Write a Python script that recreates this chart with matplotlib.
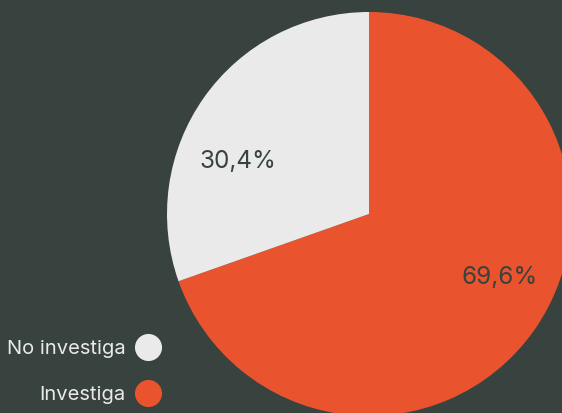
import numpy as np
import matplotlib
matplotlib.use('Agg')
import matplotlib.pyplot as plt
from matplotlib.lines import Line2D

BG = '#38423f'
ORANGE = '#e9532d'
LIGHT = '#eaeaea'

labels = ['Investiga', 'No investiga']
values = [69.6, 30.4]
colors = [ORANGE, LIGHT]

plt.rcParams['font.family'] = ['Inter', 'DejaVu Sans']

fig = plt.figure(figsize=(5.62, 4.13), dpi=100, facecolor=BG)
ax = fig.add_axes([0, 0, 1, 1])
ax.set_facecolor(BG)

wedges, texts, pcts = ax.pie(values, colors=colors, startangle=90, counterclock=False,
                             radius=1, autopct='%1.1f%%', pctdistance=0.70,
                             wedgeprops=dict(linewidth=0),
                             textprops=dict(color=BG, fontsize=17.5))

# labels are not quite at the slice middle in the original
shift = [(9.6, 0.72), (13.7, 0.70)]
for w, t, (da, dist) in zip(wedges, pcts, shift):
    t.set_text(t.get_text().replace('.', ','))
    ang = np.deg2rad((w.theta1 + w.theta2) / 2 + da)
    t.set_position((dist * np.cos(ang), dist * np.sin(ang)))

# pie is 202 px radius centred at (369, 214) px
r = 202.0
ax.set_xlim(-369 / r, (562 - 369) / r)
ax.set_ylim(-(413 - 214) / r, 214 / r)
ax.set_aspect('auto')
ax.axis('off')

handles = [Line2D([], [], linestyle='none', marker='o', markersize=19.5,
                  markerfacecolor=c, markeredgewidth=0) for c in colors[::-1]]
leg = fig.legend(handles, labels[::-1], loc='lower right', bbox_to_anchor=(162 / 562, 9 / 413),
                 frameon=False, markerfirst=False, labelspacing=1.4, handletextpad=0.45,
                 handlelength=1.35, borderpad=0, borderaxespad=0,
                 fontsize=14.5, labelcolor=LIGHT)

fig.savefig('out.png', dpi=100, facecolor=BG)
